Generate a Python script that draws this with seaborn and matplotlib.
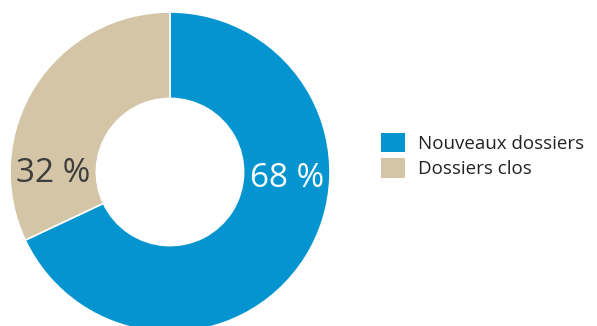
import matplotlib
matplotlib.use("Agg")
import matplotlib.pyplot as plt
from matplotlib.patches import Patch
import seaborn as sns

# Share of files: new vs closed
categories = ["Nouveaux dossiers", "Dossiers clos"]
values = [68, 32]
value_labels = ["68 %", "32 %"]
colors = ["#0495D1", "#D3C5A5"]
label_colors = ["white", "#3d3d3d"]

sns.set_theme(style="white")
plt.rcParams["font.family"] = ["Open Sans", "DejaVu Sans"]

fig = plt.figure(figsize=(5.97, 3.26), dpi=100)
ax = fig.add_axes([10 / 597, -6 / 326, 320 / 597, 320 / 326])

ring_width = 0.54
wedges, _ = ax.pie(
    values,
    colors=colors,
    startangle=90,
    counterclock=False,
    radius=1.0,
    wedgeprops=dict(width=ring_width, edgecolor="white", linewidth=1.2),
)

# Percentages placed in the middle of the ring, right and left sides
mid_r = 1.0 - ring_width / 2
for side, label, col, dy in zip([1, -1], value_labels, label_colors, [-0.04, -0.01]):
    ax.text(side * mid_r, dy, label, ha="center", va="center",
            fontsize=24, color=col)

ax.set_xlim(-1, 1)
ax.set_ylim(-1, 1)
ax.set_aspect("equal")
ax.axis("off")

handles = [Patch(facecolor=c, edgecolor="none") for c in colors]
fig.legend(
    handles, categories,
    loc="center left", bbox_to_anchor=(381 / 597, 0.523),
    frameon=False, fontsize=13.5, handlelength=1.3, handleheight=1.25,
    handletextpad=0.7, labelspacing=0.28, borderpad=0, borderaxespad=0,
    labelcolor="#222222",
)

fig.savefig("out.png", dpi=100)
